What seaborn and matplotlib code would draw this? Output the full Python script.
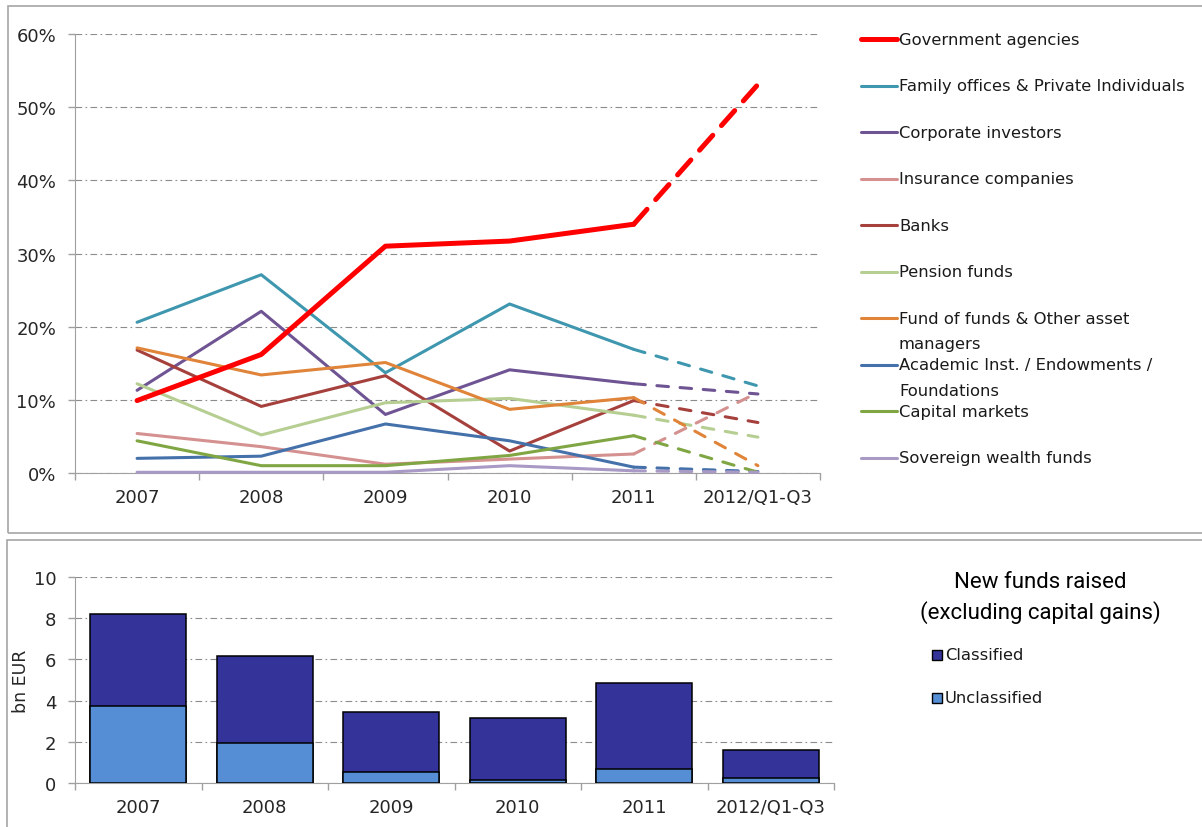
import numpy as np
import pandas as pd
import matplotlib
matplotlib.use("Agg")
import matplotlib.pyplot as plt
from matplotlib.patches import Rectangle
from matplotlib.lines import Line2D
import seaborn as sns

# ---------------------------------------------------------------- data
years = ["2007", "2008", "2009", "2010", "2011", "2012/Q1-Q3"]

investors = [
    "Government agencies",
    "Family offices & Private Individuals",
    "Corporate investors",
    "Insurance companies",
    "Banks",
    "Pension funds",
    "Fund of funds & Other asset\nmanagers",
    "Academic Inst. / Endowments /\nFoundations",
    "Capital markets",
    "Sovereign wealth funds",
]

# share of funds raised, in percent
government = [9.9, 16.2, 31.0, 31.7, 34.0, 53.1]
family_offices = [20.6, 27.1, 13.7, 23.1, 16.9, 11.9]
corporate = [11.3, 22.1, 8.0, 14.1, 12.2, 10.8]
insurance = [5.4, 3.6, 1.2, 1.9, 2.6, 11.0]
banks = [16.8, 9.1, 13.3, 3.0, 9.9, 6.9]
pension = [12.2, 5.2, 9.6, 10.2, 7.9, 4.9]
fund_of_funds = [17.1, 13.4, 15.1, 8.7, 10.3, 1.0]
academic = [2.0, 2.3, 6.7, 4.4, 0.8, 0.2]
capital_markets = [4.4, 1.0, 1.0, 2.4, 5.1, 0.1]
sovereign = [0.1, 0.1, 0.1, 1.0, 0.3, 0.1]

series = [government, family_offices, corporate, insurance, banks,
          pension, fund_of_funds, academic, capital_markets, sovereign]

colors = ["#FF0000", "#3E97AF", "#6F5493", "#D4918F", "#A5403C",
          "#B6CE92", "#E0843A", "#4571AB", "#80A643", "#A899C5"]

# new funds raised, bn EUR
unclassified = [3.72, 1.94, 0.55, 0.16, 0.68, 0.26]
classified = [4.47, 4.23, 2.88, 2.99, 4.17, 1.33]

# ---------------------------------------------------------------- style
sns.set_style("white")
plt.rcParams["font.family"] = ["DejaVu Sans"]
plt.rcParams["axes.edgecolor"] = "#A0A0A0"
plt.rcParams["text.color"] = "#1A1A1A"

W, H = 1202, 828
fig = plt.figure(figsize=(W / 100, H / 100), dpi=100)


def fx(x):
    return x / W


def fy(y):
    return 1 - y / H


GRID = dict(color="#8C8C8C", lw=0.8, linestyle=(0, (6, 3, 1.5, 3)))
TICK_FS = 13

# ---------------------------------------------------------------- panel frames
frame_kw = dict(transform=fig.transFigure, fill=False, ec="#A6A6A6", lw=1.2)
fig.add_artist(Rectangle((fx(8), fy(534)), 1.2, fy(7) - fy(534), **frame_kw))
fig.add_artist(Rectangle((fx(7), fy(900)), 1.2, fy(541) - fy(900), **frame_kw))

# ---------------------------------------------------------------- top chart
ax = fig.add_axes([fx(75), fy(474), (820 - 75) / W, (474 - 35) / H])
pos = np.arange(len(years))

order = list(range(1, len(series))) + [0]   # government line drawn on top
for i in order:
    vals = series[i]
    lw = 3.6 if i == 0 else 2.2
    dash = (0, (4, 2.6)) if i == 0 else (0, (3.8, 3.8))
    sns.lineplot(x=pos[:5], y=vals[:5], ax=ax, color=colors[i], lw=lw,
                 solid_capstyle="round", solid_joinstyle="round",
                 legend=False, clip_on=False, zorder=3)
    sns.lineplot(x=pos[4:], y=vals[4:], ax=ax, color=colors[i], lw=lw,
                 linestyle=dash, dash_capstyle="round",
                 legend=False, clip_on=False, zorder=3)

ax.set_xlim(-0.5, 5.5)
ax.set_ylim(0, 60)
ax.set_yticks(np.arange(0, 61, 10))
ax.set_yticklabels([f"{v}%" for v in range(0, 61, 10)])
ax.set_xticks(pos)
ax.set_xticklabels(years)
ax.set_xticks(np.arange(-0.5, 6, 1), minor=True)
ax.tick_params(axis="x", which="major", length=0, pad=11, labelsize=TICK_FS)
ax.tick_params(axis="x", which="minor", length=5, width=1, color="#A0A0A0",
               direction="out", bottom=True)
ax.tick_params(axis="y", length=5, width=1, color="#A0A0A0", left=True,
               pad=8.5, labelsize=TICK_FS)
ax.yaxis.grid(True, **GRID)
ax.set_axisbelow(True)
sns.despine(ax=ax, top=True, right=True)
ax.set_xlabel("")
ax.set_ylabel("")

# legend of the top chart
leg_fs = 11.8
for i, name in enumerate(investors):
    yc = 40 + 46.55 * i
    lw = 3.6 if i == 0 else 2.2
    fig.add_artist(Line2D([fx(861), fx(897)], [fy(yc), fy(yc)], color=colors[i],
                          lw=lw, solid_capstyle="round",
                          transform=fig.transFigure))
    for k, part in enumerate(name.split("\n")):
        fig.text(fx(899), fy(yc + 25.5 * k), part, fontsize=leg_fs,
                 va="center", ha="left")

# ---------------------------------------------------------------- bottom chart
bx = fig.add_axes([fx(75), fy(784), (834 - 75) / W, (784 - 578) / H])
bars = pd.DataFrame({"year": years,
                     "classified": classified,
                     "unclassified": unclassified})
bars["total"] = bars["classified"] + bars["unclassified"]

sns.barplot(data=bars, x="year", y="total", ax=bx, color="#333399",
            saturation=1, width=0.76, edgecolor="black", linewidth=1.1,
            zorder=3)
sns.barplot(data=bars, x="year", y="unclassified", ax=bx, color="#558ED5",
            saturation=1, width=0.76, edgecolor="black", linewidth=1.1,
            zorder=3)

bx.set_xlim(-0.5, 5.5)
bx.set_ylim(0, 10)
bx.set_yticks(np.arange(0, 11, 2))
bx.set_xticks(np.arange(-0.5, 6, 1), minor=True)
bx.tick_params(axis="x", which="major", length=0, pad=11, labelsize=TICK_FS)
bx.tick_params(axis="x", which="minor", length=5, width=1, color="#A0A0A0",
               direction="out", bottom=True)
bx.tick_params(axis="y", length=5, width=1, color="#A0A0A0", left=True,
               pad=8.5, labelsize=TICK_FS)
bx.yaxis.grid(True, **GRID)
bx.set_axisbelow(True)
sns.despine(ax=bx, top=True, right=True)
bx.set_xlabel("")
bx.set_ylabel("bn EUR", fontsize=12.5)
bx.yaxis.set_label_coords((30 - 75) / (834 - 75), 0.5)

# legend of the bottom chart
title_font = ["Roboto", "DejaVu Sans"]
fig.text(fx(1040), fy(582), "New funds raised", fontsize=16,
         family=title_font, ha="center", va="center", color="black")
fig.text(fx(1040), fy(613), "(excluding capital gains)", fontsize=16,
         family=title_font, ha="center", va="center", color="black")
for k, (lab, col) in enumerate([("Classified", "#333399"),
                                ("Unclassified", "#558ED5")]):
    yc = 656 + 43 * k
    fig.add_artist(Rectangle((fx(932), fy(yc + 5)), 10 / W, 10 / H,
                             transform=fig.transFigure, fc=col, ec="black",
                             lw=1))
    fig.text(fx(945), fy(yc), lab, fontsize=leg_fs, va="center", ha="left")

fig.savefig("out.png", dpi=100)
